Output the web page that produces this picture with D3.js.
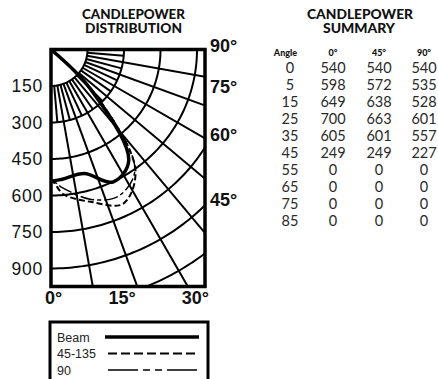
<!DOCTYPE html>
<html><head><meta charset="utf-8">
<script src="https://cdn.jsdelivr.net/npm/d3@7"></script>
<style>body{margin:0;background:#fff}svg{display:block}</style>
</head><body>
<svg id="c" width="438" height="379"></svg>
<script>
// Candlepower summary (candela) by vertical angle, for three planes
const angles = [0, 5, 15, 25, 35, 45, 55, 65, 75, 85];
const planes = ["0°", "45°", "90°"];
const cd0  = [540, 598, 649, 700, 605, 249, 0, 0, 0, 0];
const cd45 = [540, 572, 638, 663, 601, 249, 0, 0, 0, 0];
const cd90 = [540, 535, 528, 601, 557, 227, 0, 0, 0, 0];
const candelaTicks = [150, 300, 450, 600, 750, 900];
const bottomAngleTicks = [0, 15, 30];
const sideAngleTicks = [90, 75, 60, 45];
const legendLabels = ["Beam", "45-135", "90"];

const svg = d3.select("#c");
const box = {x0: 51, y0: 49.5, x1: 205, y1: 286.5};
const r = d3.scaleLinear().domain([0, 150]).range([0, 36.5]);   // candela -> radius px
const rad = d => d * Math.PI / 180;
// angle measured from nadir, opening toward the right
const px = (a, c) => box.x0 + r(c) * Math.sin(rad(a));
const py = (a, c) => box.y0 + r(c) * Math.cos(rad(a));

const defs = svg.append("defs");
defs.append("clipPath").attr("id", "plot")
  .append("rect").attr("x", box.x0).attr("y", box.y0)
  .attr("width", box.x1 - box.x0).attr("height", box.y1 - box.y0);

const titleFont = "Lato, 'Open Sans', sans-serif";
const title = (x, y, txt, len) => svg.append("text").attr("x", x).attr("y", y)
  .attr("text-anchor", "middle").attr("font-family", titleFont).attr("font-weight", 900)
  .attr("font-size", 12.5).attr("textLength", len).attr("lengthAdjust", "spacingAndGlyphs")
  .attr("fill", "#111").text(txt);

// ---- polar grid ----
const g = svg.append("g").attr("clip-path", "url(#plot)");
const gridRings = d3.range(150, 1201, 150);
const arcLine = d3.line().x(d => d[0]).y(d => d[1]);
gridRings.forEach(c => {
  const pts = d3.range(0, 90.01, 1).map(a => [px(a, c), py(a, c)]);
  g.append("path").attr("d", arcLine(pts)).attr("fill", "none")
    .attr("stroke", "#000").attr("stroke-width", 2);
});
const spokes = d3.range(5, 90, 5);
spokes.forEach(a => {
  const outer = a % 10 === 0 ? 1400 : 300;
  g.append("line")
    .attr("x1", px(a, 150)).attr("y1", py(a, 150))
    .attr("x2", px(a, outer)).attr("y2", py(a, outer))
    .attr("stroke", "#000").attr("stroke-width", 2);
});

// ---- distribution curves ----
const radial = d3.lineRadial()
  .angle(d => Math.PI - rad(d.a))
  .radius(d => r(d.c))
  .curve(d3.curveCatmullRom.alpha(0.5));
function curvePoints(vals) {
  const end = vals.indexOf(0);
  const pts = angles.slice(0, end + 1).map((a, i) => ({a, c: vals[i]}));
  return [{a: -angles[1], c: vals[1]}].concat(pts);   // mirrored side for a smooth start
}
const curves = [
  {vals: cd0,  width: 2,   dash: "6,3"},
  {vals: cd45, width: 1.5, dash: "14,3,4,3"},
  {vals: cd90, width: 3.5, dash: null}
];
curves.forEach(s => {
  g.append("path")
    .attr("transform", `translate(${box.x0},${box.y0})`)
    .attr("d", radial(curvePoints(s.vals)))
    .attr("fill", "none").attr("stroke", "#000")
    .attr("stroke-width", s.width)
    .attr("stroke-dasharray", s.dash)
    .attr("stroke-linejoin", "round");
});

// frame
svg.append("rect").attr("x", box.x0).attr("y", box.y0)
  .attr("width", box.x1 - box.x0).attr("height", box.y1 - box.y0)
  .attr("fill", "none").attr("stroke", "#000").attr("stroke-width", 3.5);

// ---- axis labels ----
const labelFont = "'Liberation Sans', Arial, sans-serif";
svg.selectAll("text.cd").data(candelaTicks).join("text").attr("class", "cd")
  .attr("x", 43).attr("y", d => py(0, d)).attr("dy", "0.36em")
  .attr("text-anchor", "end").attr("font-family", labelFont).attr("font-size", 17.5)
  .attr("letter-spacing", 0.8).attr("fill", "#111").text(d => d);

svg.selectAll("text.ab").data(bottomAngleTicks).join("text").attr("class", "ab")
  .attr("x", d => box.x0 + (box.y1 - box.y0) * Math.tan(rad(d)) - 6)
  .attr("y", 304).attr("font-family", labelFont).attr("font-weight", 700)
  .attr("font-size", 18).attr("fill", "#111").text(d => d + "°");

svg.selectAll("text.as").data(sideAngleTicks).join("text").attr("class", "as")
  .attr("x", box.x1 + 5)
  .attr("y", d => box.y0 + (box.x1 - box.x0) / Math.tan(rad(d)) - 4).attr("dy", "0.36em")
  .attr("font-family", labelFont).attr("font-weight", 700)
  .attr("font-size", 18).attr("fill", "#111").text(d => d + "°");

title(133.5, 19, "CANDLEPOWER", 103);
title(133.5, 33, "DISTRIBUTION", 97);

// ---- legend ----
const lg = svg.append("g");
lg.append("rect").attr("x", 50).attr("y", 322).attr("width", 158).attr("height", 80)
  .attr("fill", "none").attr("stroke", "#000").attr("stroke-width", 3);
const legendStyles = [
  {width: 3.5, dash: null, x1: 105},
  {width: 2, dash: "9,4", x1: 108},
  {width: 1.5, dash: "30,5,7,5,7,5", x1: 108}
];
legendLabels.forEach((lab, i) => {
  const y = 337 + i * 16.5;
  lg.append("text").attr("x", 57).attr("y", y).attr("dy", "0.36em")
    .attr("font-family", labelFont).attr("font-size", 12.5).attr("fill", "#222").text(lab);
  lg.append("line").attr("x1", legendStyles[i].x1).attr("x2", 199)
    .attr("y1", y).attr("y2", y).attr("stroke", "#000")
    .attr("stroke-width", legendStyles[i].width)
    .attr("stroke-dasharray", legendStyles[i].dash);
});

// ---- summary table ----
title(360, 19, "CANDLEPOWER", 106);
title(359, 33, "SUMMARY", 72);
const colX = [333, 379, 424];
const tableFont = "Lato, 'Open Sans', sans-serif";
svg.append("text").attr("x", 285.5).attr("y", 53).attr("dy", "0.36em")
  .attr("text-anchor", "middle").attr("font-family", tableFont).attr("font-weight", 900)
  .attr("font-size", 9).attr("fill", "#111").text("Angle");
planes.forEach((p, j) => {
  svg.append("text").attr("x", colX[j]).attr("y", 53).attr("dy", "0.36em")
    .attr("text-anchor", "middle").attr("font-family", tableFont).attr("font-weight", 900)
    .attr("font-size", 9).attr("fill", "#111").text(p);
});
const rowY = d3.scaleLinear().domain([0, 1]).range([67.5, 84.5]);
const series = [cd0, cd45, cd90];
angles.forEach((a, i) => {
  svg.append("text").attr("x", 290).attr("y", rowY(i)).attr("dy", "0.36em")
    .attr("text-anchor", "middle").attr("font-family", tableFont).attr("font-weight", 400)
    .attr("font-size", 14.5).attr("fill", "#2a2a2a").text(a);
  series.forEach((s, j) => {
    svg.append("text").attr("x", colX[j]).attr("y", rowY(i)).attr("dy", "0.36em")
      .attr("text-anchor", "middle").attr("font-family", tableFont).attr("font-weight", 400)
      .attr("font-size", 14.5).attr("fill", "#2a2a2a").text(s[i]);
  });
});
</script>
</body></html>
